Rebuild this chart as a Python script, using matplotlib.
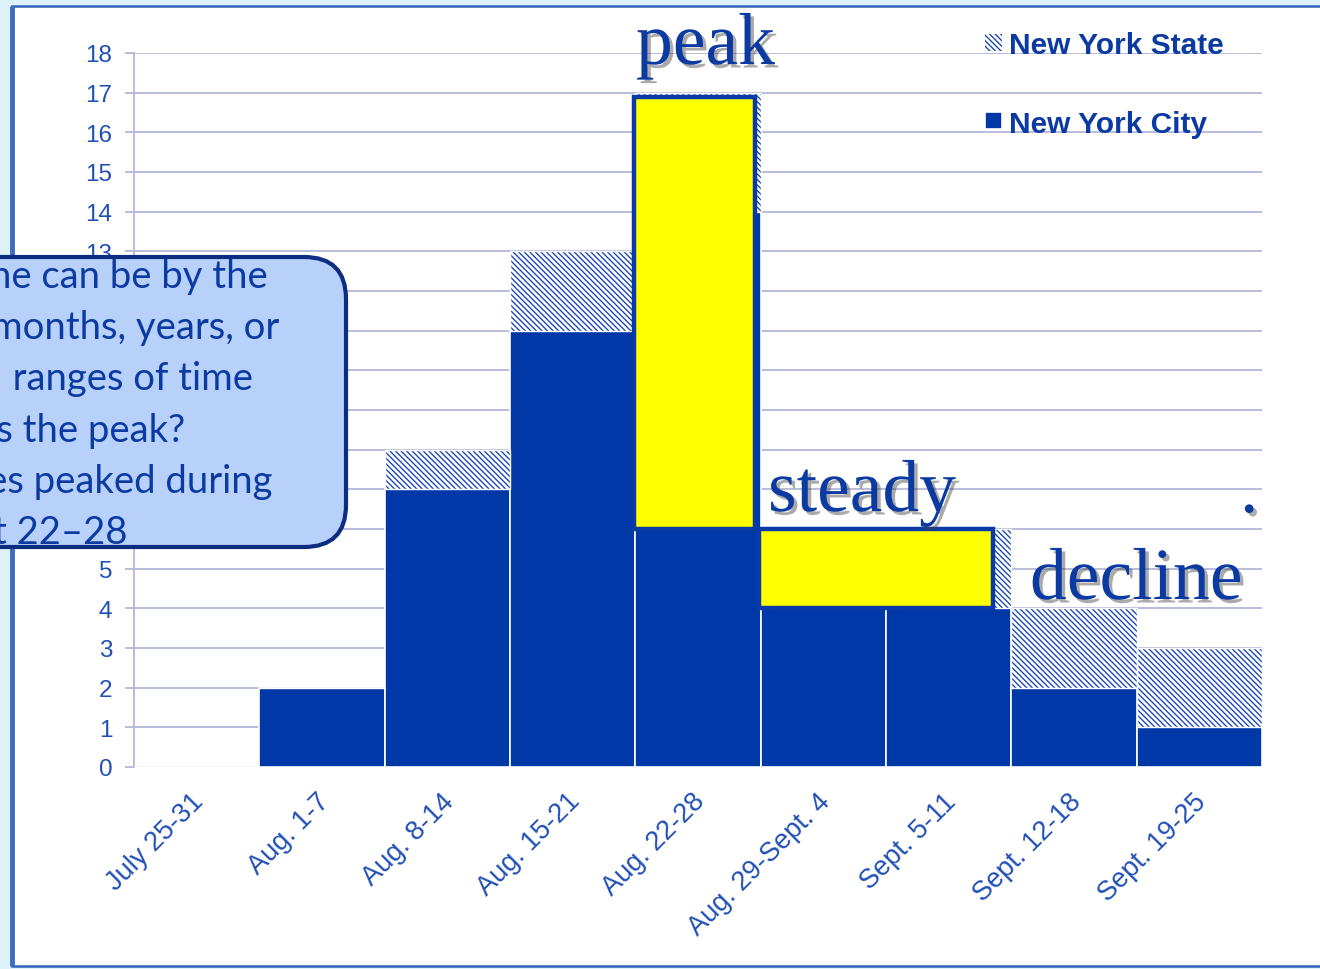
import matplotlib
matplotlib.use('Agg')
import matplotlib.pyplot as plt
import matplotlib.patches as mpatches
import matplotlib.patheffects as pe
import matplotlib.transforms as mtransforms
import numpy as np

# weekly counts
weeks = ['July 25-31', 'Aug. 1-7', 'Aug. 8-14', 'Aug. 15-21', 'Aug. 22-28',
         'Aug. 29-Sept. 4', 'Sept. 5-11', 'Sept. 12-18', 'Sept. 19-25']
nyc_cases = [0, 2, 7, 11, 14, 4, 4, 2, 1]
nys_cases = [0, 2, 8, 13, 17, 6, 6, 4, 3]
y_ticks = list(range(0, 19))

callout_lines = ['Time can be by the',
                 'days, weeks, months, years, or',
                 'other  ranges of time',
                 'When was the peak?',
                 'Cases peaked during',
                 'August 22\u201328']

W, H = 1320, 970
blue = '#0038a8'
hatch_blue = '#1f4ab2'
grid_c = '#b3b6d8'
tick_c = '#2150b5'
text_c = '#0b3aa3'

plt.rcParams['hatch.linewidth'] = 1.0

fig = plt.figure(figsize=(13.2, 9.7), dpi=100)
fig.patch.set_facecolor('#dcf1fa')

# slide frame behind the chart
bg = fig.add_axes([0, 0, 1, 1])
bg.set_xlim(0, W)
bg.set_ylim(H, 0)
bg.axis('off')
bg.add_patch(mpatches.Rectangle((12, 7), 1330, 960, facecolor='white',
                                edgecolor='#2f62b8', lw=1.8, clip_on=False))
bg.plot([12, 12], [7, 967], color='#3b6cc0', lw=3.5, solid_capstyle='butt')

ax = fig.add_axes([134 / W, 1 - 768 / H, 1128 / W, 714 / H])
ax.set_facecolor('none')
x = np.arange(len(weeks))
extra = np.array(nys_cases) - np.array(nyc_cases)

city = ax.bar(x, nyc_cases, width=1, color=blue, edgecolor='white', lw=1.2, zorder=3)
state = ax.bar(x, extra, bottom=nyc_cases, width=1, facecolor='white',
               edgecolor=hatch_blue, lw=0, hatch='\\' * 6, zorder=3)
ax.bar(x, extra, bottom=nyc_cases, width=1, fill=False, edgecolor='white', lw=1.0, zorder=4)

ax.set_xlim(-0.5, len(weeks) - 0.5)
ax.set_ylim(0, 18)
ax.set_yticks(y_ticks)
ax.grid(axis='y', color=grid_c, lw=1.3)
ax.set_axisbelow(True)
for s in ['top', 'right', 'bottom']:
    ax.spines[s].set_visible(False)
ax.spines['left'].set_color(grid_c)
ax.spines['left'].set_linewidth(1.3)
ax.tick_params(axis='y', length=6.5, width=1.3, color=grid_c, labelcolor=tick_c, pad=9)
ax.tick_params(axis='x', length=0, labelcolor=tick_c, pad=15)
ax.set_xticks(x)
ax.set_xticklabels(weeks, rotation=45, ha='right', va='top', rotation_mode='anchor')
for lab in ax.get_yticklabels():
    lab.set_fontfamily('Liberation Sans')
    lab.set_fontsize(17.5)
shift = mtransforms.ScaledTranslation(-6 / 100, 0, fig.dpi_scale_trans)
for lab in ax.get_xticklabels():
    lab.set_fontfamily('Liberation Sans')
    lab.set_fontsize(19.5)
    lab.set_transform(lab.get_transform() + shift)

ax.legend([state, city], ['New York State', 'New York City'], loc='upper left',
          bbox_to_anchor=(0.7415, 1.052), frameon=False, borderpad=0,
          handlelength=0.55, handleheight=0.5, handletextpad=0.25, labelspacing=1.7,
          prop={'family': 'Liberation Sans', 'weight': 'bold', 'size': 21.5},
          labelcolor=text_c)

# yellow highlight boxes for the peak and the steady weeks
ax.add_patch(mpatches.Rectangle((3.49, nys_cases[5]), 0.965, nys_cases[4] - nys_cases[5] - 0.1,
                                facecolor='#ffff00', edgecolor='#0a3aa8', lw=3.2, zorder=6))
ax.add_patch(mpatches.Rectangle((4.49, nyc_cases[5]), 1.865, nys_cases[5] - nyc_cases[5],
                                facecolor='#ffff00', edgecolor='#0a3aa8', lw=3.2, zorder=6))

# overlay in pixel coordinates
top = fig.add_axes([0, 0, 1, 1])
top.set_xlim(0, W)
top.set_ylim(H, 0)
top.axis('off')

shadow = [pe.SimplePatchShadow(offset=(2.5, -2.5), shadow_rgbFace='#444444', alpha=0.45), pe.Normal()]
for word, px, py in [('peak', 636, 65), ('steady', 768, 512), ('decline', 1030, 600), ('.', 1240, 513)]:
    top.text(px, py, word, fontsize=53, family='Liberation Serif', color=text_c,
             va='baseline', ha='left', path_effects=shadow)

top.add_patch(mpatches.FancyBboxPatch((-60, 258), 406, 290,
                                      boxstyle='round,pad=0,rounding_size=42',
                                      facecolor='#b8d1fb', edgecolor='#0c2d80', lw=3, clip_on=False))
line_ends = [268, 279, 253, 185, 273, 127]
for i, line in enumerate(callout_lines):
    top.text(line_ends[i], 288 + 51.2 * i, line, fontsize=27.5, family='Lato',
             color=text_c, ha='right', va='baseline')

fig.savefig('out.png', dpi=100, facecolor=fig.get_facecolor())
